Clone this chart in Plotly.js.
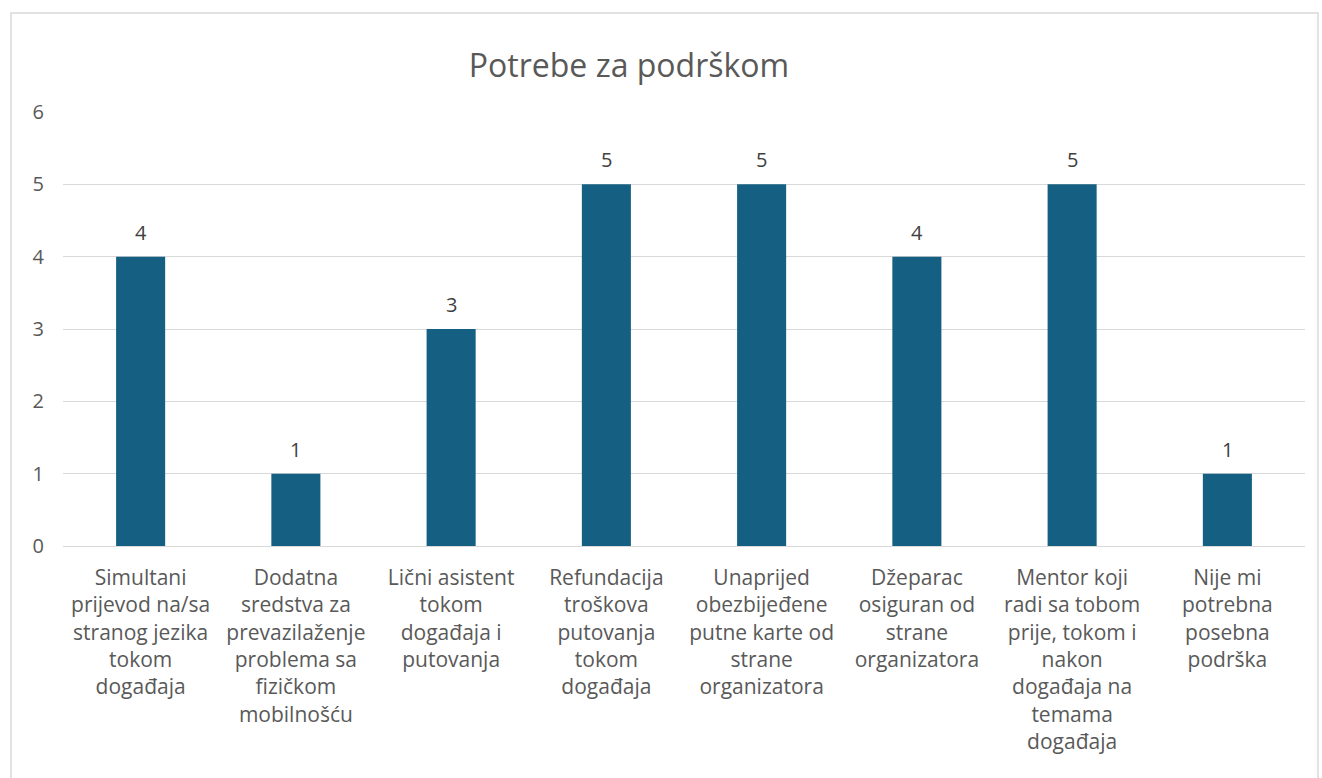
<!DOCTYPE html>
<html>
<head>
<meta charset="utf-8">
<script src="https://cdn.plot.ly/plotly-3.0.1.min.js"></script>
<style>
  html, body { margin: 0; padding: 0; background: #fff; }
  #chart { width: 1322px; height: 778px; }
</style>
</head>
<body>
<div id="chart"></div>
<script>
// --- Data ---
const categories = [
  'Simultani<br>prijevod na/sa<br>stranog jezika<br>tokom<br>događaja',
  'Dodatna<br>sredstva za<br>prevazilaženje<br>problema sa<br>fizičkom<br>mobilnošću',
  'Lični asistent<br>tokom<br>događaja i<br>putovanja',
  'Refundacija<br>troškova<br>putovanja<br>tokom<br>događaja',
  'Unaprijed<br>obezbijeđene<br>putne karte od<br>strane<br>organizatora',
  'Džeparac<br>osiguran od<br>strane<br>organizatora',
  'Mentor koji<br>radi sa tobom<br>prije, tokom i<br>nakon<br>događaja na<br>temama<br>događaja',
  'Nije mi<br>potrebna<br>posebna<br>podrška',
];
const counts = [4, 1, 3, 5, 5, 4, 5, 1];
const yTicks = [0, 1, 2, 3, 4, 5, 6];

const FONT = 'Open Sans, sans-serif';
const TEXT = '#595959';
const GRID = '#d9d9d9';

const trace = {
  x: categories,
  y: counts,
  type: 'bar',
  marker: { color: '#156082' },
  hoverinfo: 'x+y',
};

// value labels above bars
const labels = categories.map((c, i) => ({
  x: c,
  y: counts[i],
  text: String(counts[i]),
  showarrow: false,
  yanchor: 'bottom',
  yshift: 9,
  font: { family: FONT, size: 20, color: '#404040' },
}));

const layout = {
  width: 1322,
  height: 778,
  paper_bgcolor: '#fff',
  plot_bgcolor: '#fff',
  font: { family: FONT, color: TEXT },
  title: {
    text: 'Potrebe za podrškom',
    font: { family: FONT, size: 32, color: TEXT },
    xref: 'paper', x: 0.4557, xanchor: 'center',
    y: 0.915, yanchor: 'middle',
  },
  margin: { t: 112, r: 17, b: 232, l: 63 },
  bargap: 0.684,
  showlegend: false,
  xaxis: {
    type: 'category',
    tickfont: { family: FONT, size: 21, color: TEXT },
    tickangle: 0,
    showgrid: false,
    showline: false,
    ticks: '',
    ticklabelstandoff: 17,
    automargin: false,
  },
  yaxis: {
    range: [0, 6],
    tickvals: yTicks,
    tickfont: { family: FONT, size: 20, color: TEXT },
    showgrid: true,
    gridcolor: GRID,
    gridwidth: 1,
    zeroline: true,
    zerolinecolor: GRID,
    zerolinewidth: 1,
    showline: false,
    ticks: '',
    ticklabelstandoff: 18,
    automargin: false,
  },
  annotations: labels,
  shapes: [{
    type: 'rect',
    xref: 'paper', yref: 'paper',
    x0: -0.0419, x1: 1.0105, y0: -0.6, y1: 1.228,
    line: { color: GRID, width: 1.5 },
    fillcolor: 'rgba(0,0,0,0)',
    layer: 'below',
  }],
};

Plotly.newPlot('chart', [trace], layout, { displayModeBar: false, staticPlot: true });
</script>
</body>
</html>
